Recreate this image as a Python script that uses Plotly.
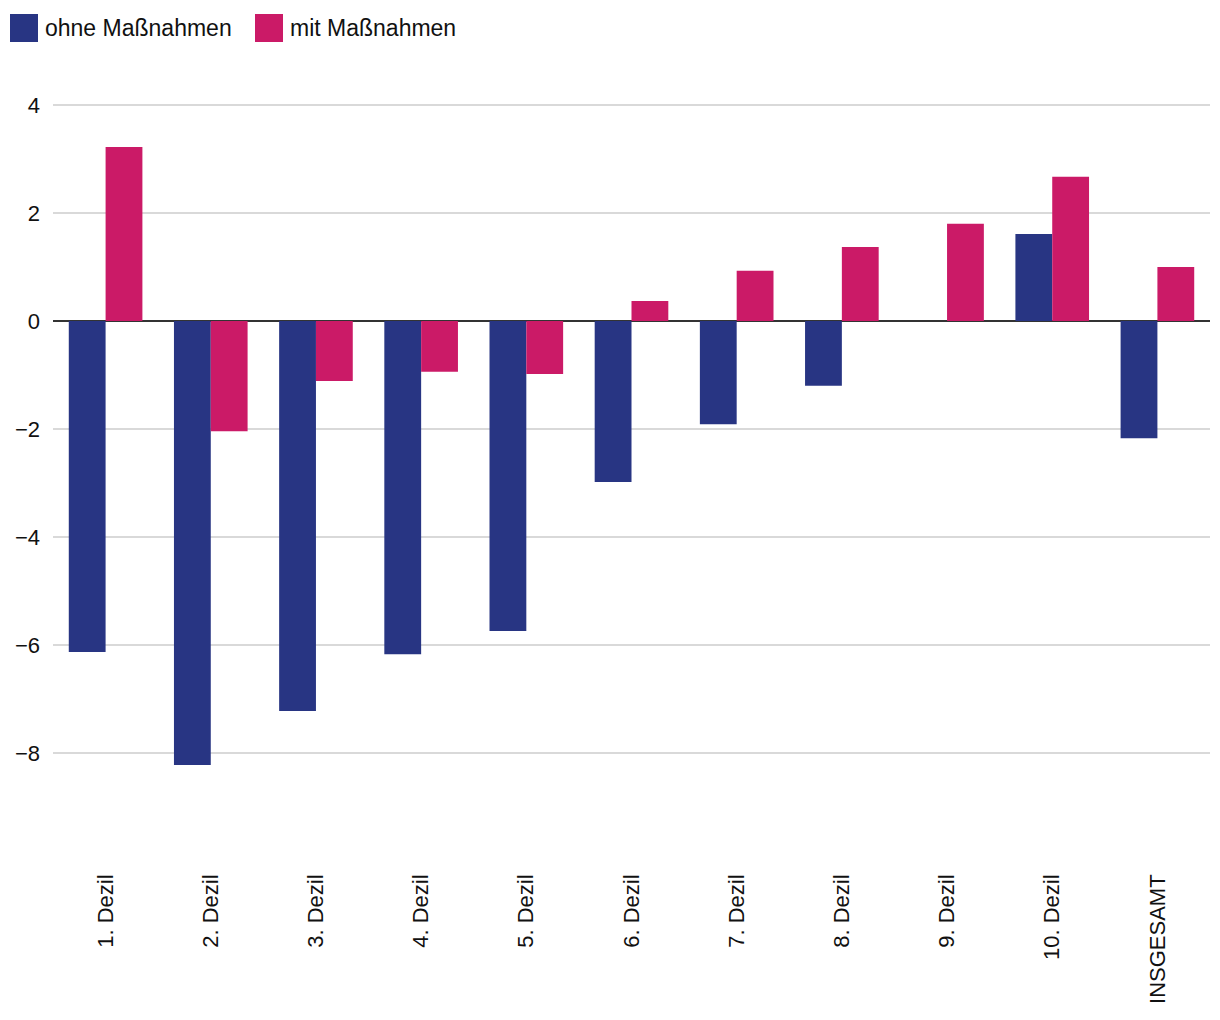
import plotly.graph_objects as go

categories = ["1. Dezil", "2. Dezil", "3. Dezil", "4. Dezil", "5. Dezil", "6. Dezil",
              "7. Dezil", "8. Dezil", "9. Dezil", "10. Dezil", "INSGESAMT"]
ohne = [-6.13, -8.22, -7.22, -6.17, -5.74, -2.98, -1.91, -1.20, 0.0, 1.61, -2.17]
mit = [3.22, -2.04, -1.11, -0.94, -0.98, 0.37, 0.93, 1.37, 1.80, 2.67, 1.00]
series_names = ["ohne Maßnahmen", "mit Maßnahmen"]
colors = ["#283583", "#cb1a67"]
y_ticks = [-8, -6, -4, -2, 0, 2, 4]

W, H = 1220, 1020
OFFX, OFFY = 8, 8  # page offset of the figure
ML, MR, MT, MB = 45, 18, 70, 167
FONT = "Liberation Sans, Arial, sans-serif"

fig = go.Figure()
for name, vals, col in zip(series_names, [ohne, mit], colors):
    fig.add_trace(go.Bar(x=categories, y=vals, name=name, marker_color=col,
                         marker_line_width=0, showlegend=False))

fig.update_layout(
    width=W, height=H,
    margin=dict(l=ML, r=MR, t=MT, b=MB),
    barmode="group", bargap=0.3, bargroupgap=0,
    plot_bgcolor="white", paper_bgcolor="white",
    font=dict(family=FONT, size=20, color="#111"),
    xaxis=dict(tickangle=-90, tickfont=dict(size=22), showgrid=False,
               ticks="", ticklabelstandoff=8, automargin=False),
    yaxis=dict(range=[-10, 4.5], tickvals=y_ticks, showgrid=True,
               gridcolor="#d9d9d9", gridwidth=1.5, zeroline=True,
               zerolinecolor="#333333", zerolinewidth=2,
               tickfont=dict(size=22), ticklabelstandoff=12, automargin=False),
)

# custom legend with large square swatches (screen px -> paper)
pw = W - ML - MR
ph = H - MT - MB
def px_x(x):
    return (x - OFFX - ML) / pw
def px_y(y):
    return 1 - (y - OFFY - MT) / ph

legend_items = [(10, 46), (255, 291)]
for (sx, tx), name, col in zip(legend_items, series_names, colors):
    fig.add_shape(type="rect", xref="paper", yref="paper",
                  x0=px_x(sx), x1=px_x(sx + 28), y0=px_y(42), y1=px_y(14),
                  fillcolor=col, line_width=0)
    fig.add_annotation(xref="paper", yref="paper", x=px_x(tx), y=px_y(28),
                       text=name, showarrow=False, xanchor="left", yanchor="middle",
                       xshift=-3, font=dict(size=23, family=FONT, color="#111"))

fig.write_html("out.html")
